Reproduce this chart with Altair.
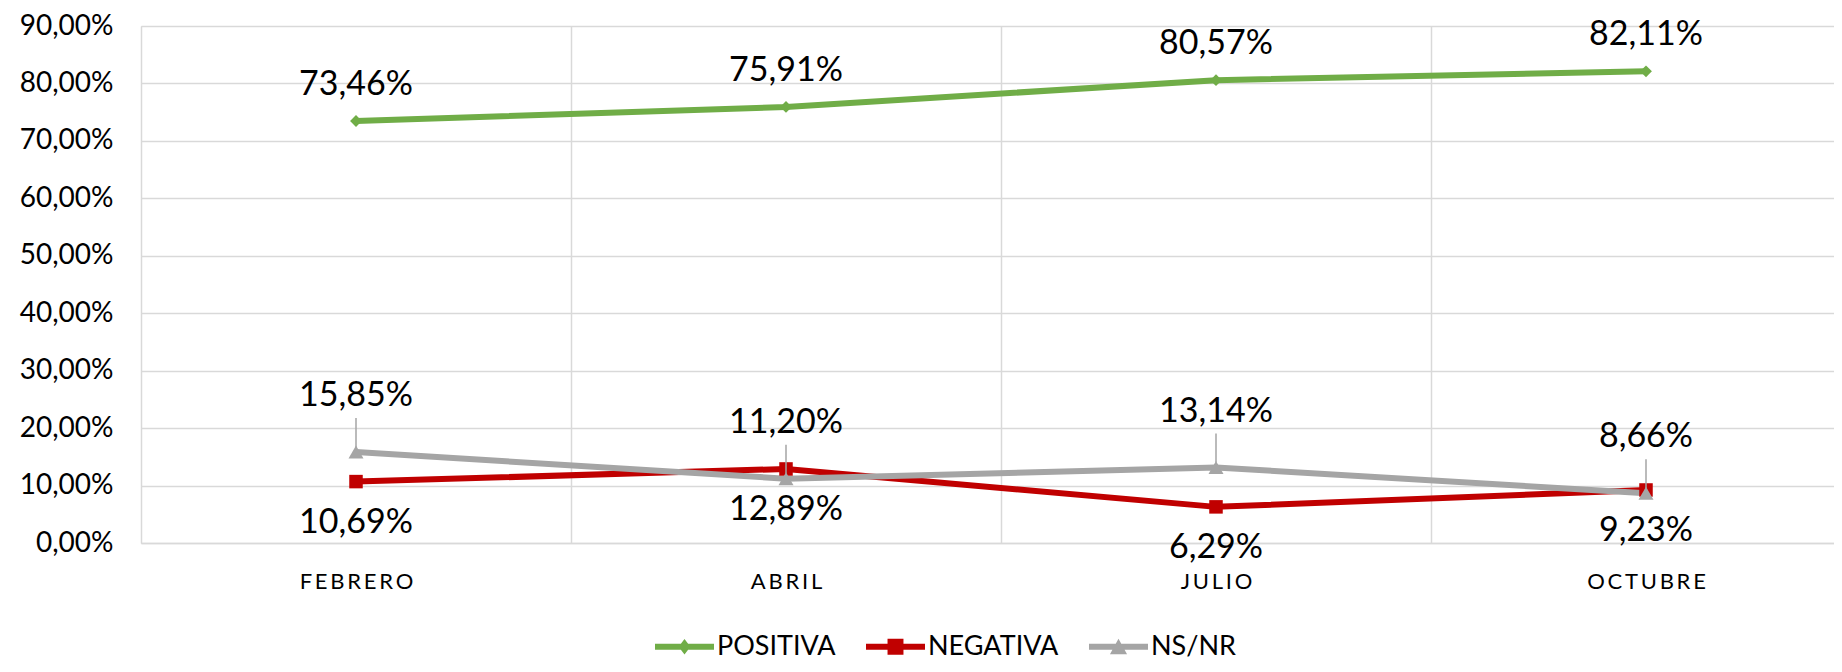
import altair as alt
import pandas as pd

months = ["FEBRERO", "ABRIL", "JULIO", "OCTUBRE"]
series = ["POSITIVA", "NEGATIVA", "NS/NR"]
positiva = [73.46, 75.91, 80.57, 82.11]
negativa = [10.69, 12.89, 6.29, 9.23]
nsnr = [15.85, 11.20, 13.14, 8.66]
y_ticks = [0, 10, 20, 30, 40, 50, 60, 70, 80, 90]

colors = ["#70AD47", "#C00000", "#A5A5A5"]
markers = ["diamond", "square", "triangle-up"]
marker_sizes = [140, 225, 256]
legend_symbols = [
    "M-1,-0.1L1,-0.1L1,0.1L-1,0.1Z M0,-0.26L0.2,0L0,0.26L-0.2,0Z",
    "M-1,-0.1L1,-0.1L1,0.1L-1,0.1Z M-0.27,-0.27L0.27,-0.27L0.27,0.27L-0.27,0.27Z",
    "M-1,-0.1L1,-0.1L1,0.1L-1,0.1Z M0,-0.27L0.29,0.25L-0.29,0.25Z",
]

rows = []
for s, vals in zip(series, [positiva, negativa, nsnr]):
    for m, v in zip(months, vals):
        rows.append({"mes": m, "serie": s, "valor": v})
df = pd.DataFrame(rows)

FONT = "Lato"
GRID = "#D9D9D9"

x_enc = alt.X(
    "mes:N",
    sort=months,
    scale=alt.Scale(type="band", domain=months, range=[0, 1720], paddingInner=0, paddingOuter=0),
    axis=alt.Axis(
        title=None, labelAngle=0, ticks=False, tickSize=0, tickBand="extent",
        grid=True, gridColor=GRID, gridWidth=1.5,
        domain=True, domainColor=GRID, domainWidth=1.5,
        labelExpr="join(split(datum.label, ''), '\u2009')",
        labelFont=FONT, labelFontSize=22, labelColor="#000000",
        labelPadding=38, labelBaseline="middle",
    ),
)
y_enc = alt.Y(
    "valor:Q",
    scale=alt.Scale(domain=[0, 90], nice=False, zero=True),
    axis=alt.Axis(
        title=None, values=y_ticks, ticks=False, tickSize=0, domain=False,
        grid=True, gridColor=GRID, gridWidth=1.5,
        labelExpr="replace(format(datum.value, '.2f'), '.', ',') + '%'",
        labelFont=FONT, labelFontSize=28, labelColor="#000000", labelPadding=28,
    ),
)

color_nolegend = alt.Color("serie:N", scale=alt.Scale(domain=series, range=colors), legend=None)

base = alt.Chart(df).transform_calculate(
    etiqueta="replace(format(datum.valor, '.2f'), '.', ',') + '%'"
)

lines = base.mark_line(strokeWidth=6, strokeJoin="round").encode(
    x=x_enc, y=y_enc, color=color_nolegend, detail="serie:N"
)

points = base.mark_point(filled=True, opacity=1, strokeWidth=0).encode(
    x=x_enc, y=y_enc, color=color_nolegend,
    shape=alt.Shape("serie:N", scale=alt.Scale(domain=series, range=markers), legend=None),
    size=alt.Size("serie:N", scale=alt.Scale(domain=series, range=marker_sizes), legend=None),
)

leaders = base.transform_filter("datum.serie == 'NS/NR'").mark_rule(
    color="#A5A5A5", strokeWidth=1.5, yOffset=-5, y2Offset=-34
).encode(x=x_enc, y=y_enc, y2=alt.Y2("valor:Q"))

def labels(name, dy):
    return base.transform_filter(f"datum.serie == '{name}'").mark_text(
        dy=dy, fontSize=34, font=FONT, color="#000000", align="center", baseline="middle"
    ).encode(x=x_enc, y=y_enc, text="etiqueta:N")

lab_pos = labels("POSITIVA", -36)
lab_neg = labels("NEGATIVA", 41)
lab_ns = labels("NS/NR", -56)

legend_cfg = dict(
    title=None, orient="none", legendX=514, legendY=591, direction="horizontal",
    symbolSize=3481, symbolStrokeWidth=0, labelFont=FONT, labelFontSize=27,
    labelColor="#000000", labelOffset=3, columnPadding=30, padding=0,
)
legend_layer = alt.Chart(df).transform_filter("false").mark_point(
    filled=True, opacity=1, strokeWidth=0
).encode(
    x=x_enc, y=y_enc,
    color=alt.Color("serie:N", scale=alt.Scale(domain=series, range=colors), legend=alt.Legend(**legend_cfg)),
    shape=alt.Shape("serie:N", scale=alt.Scale(domain=series, range=legend_symbols), legend=alt.Legend(**legend_cfg)),
)

chart = alt.layer(
    lines, points, leaders, lab_pos, lab_neg, lab_ns, legend_layer
).resolve_scale(
    color="independent", shape="independent", size="independent"
).properties(
    width=1693, height=517,
    autosize=alt.AutoSizeParams(type="none"),
    padding={"left": 133, "top": 18, "right": 0, "bottom": 121},
).configure_view(stroke=None).configure(font=FONT)

chart.save("out.html", embed_options={"renderer": "svg", "actions": False})
